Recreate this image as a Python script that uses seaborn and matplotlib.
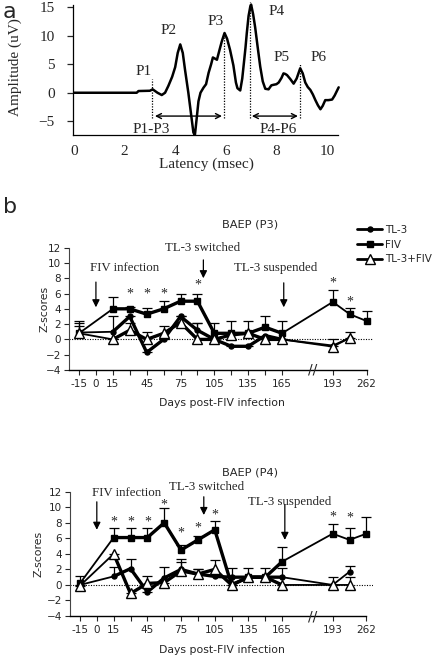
import numpy as np
import pandas as pd
import matplotlib
matplotlib.use("Agg")
import matplotlib.pyplot as plt
from matplotlib.lines import Line2D
import seaborn as sns

# ---------------- data: panel a (waveform) ----------------
latency = [0, 2.48, 2.55, 3.0, 3.11, 3.3, 3.47, 3.6, 3.73, 3.88, 4.0, 4.1, 4.2, 4.3,
           4.39, 4.52, 4.62, 4.72, 4.78, 4.85, 4.92, 5.0, 5.12, 5.22, 5.32, 5.42, 5.49,
           5.57, 5.65, 5.75, 5.84, 5.95, 6.05, 6.17, 6.3, 6.4, 6.46, 6.57, 6.65, 6.7,
           6.78, 6.83, 6.9, 6.97, 7.0, 7.08, 7.16, 7.26, 7.36, 7.46, 7.56, 7.69, 7.8,
           7.89, 8.0, 8.09, 8.2, 8.28, 8.35, 8.42, 8.55, 8.68, 8.8, 8.94, 9.04, 9.14,
           9.24, 9.34, 9.44, 9.54, 9.64, 9.74, 9.83, 9.93, 10.05, 10.2, 10.3, 10.46]
amplitude = [0, 0, 0.3, 0.35, 0.6, 0.0, -0.4, 0.0, 1.2, 2.8, 4.5, 7.0, 8.5, 7.0,
             4.0, 0.0, -3.5, -7.0, -7.4, -4.5, -1.5, 0.0, 0.9, 1.5, 3.5, 5.0, 6.2,
             6.0, 5.8, 7.5, 9.0, 10.5, 9.5, 7.5, 4.8, 1.8, 0.8, 0.4, 2.5, 4.6,
             8.0, 10.5, 13.5, 15.2, 15.5, 13.8, 11.5, 8.0, 4.6, 2.0, 0.7, 0.6, 1.3,
             1.4, 1.5, 1.8, 2.6, 3.4, 3.3, 3.1, 2.4, 1.6, 2.5, 4.3, 3.4, 1.8,
             1.0, 0.5, -0.3, -1.3, -2.2, -2.9, -2.3, -1.3, -1.3, -1.2, -0.5, 0.95]
peak_labels = ["P1", "P2", "P3", "P4", "P5", "P6"]
peak_label_x = [2.75, 3.73, 5.58, 8.02, 8.2, 9.67]
peak_label_y = [3.7, 11.0, 12.5, 14.3, 6.2, 6.2]

# ---------------- data: panel b ----------------
axis_days = ["-15", "0", "15", "30", "45", "60", "75", "90", "105", "120", "135",
             "150", "165", "", " ", "193", "220", "262"]
tick_days = ["-15", "0", "15", "45", "75", "105", "135", "165", "193", "262"]
minor_days = ["30", "60", "90", "120", "150"]
sessions = ["-15", "15", "30", "45", "60", "75", "90", "105", "120", "135", "150",
            "165", "193", "220", "262"]
series_names = ["TL-3", "FIV", "TL-3+FIV"]

nan = np.nan
p3_tl3 = [0.9, 1.0, 3.0, -1.7, 0.0, 3.0, 1.2, 0.0, -0.9, -0.9, 0.5, 0.0, -0.8, 0.2, nan]
p3_tl3_err = [1.2, 2.0, 0.0, 0.0, 0.0, 0.0, 1.0, 0.0, 0.0, 0.0, 0.0, 0.0, 0.0, 0.0, nan]
p3_fiv = [0.8, 4.0, 4.0, 3.3, 4.0, 5.0, 5.0, 0.8, 0.8, 0.8, 1.6, 0.8, 4.9, 3.3, 2.4]
p3_fiv_err = [1.6, 1.6, 0.2, 0.8, 1.0, 1.0, 1.0, 1.4, 1.6, 1.6, 1.5, 1.6, 1.5, 0.8, 1.3]
p3_combo = [0.8, 0.0, 1.2, 0.0, 0.8, 2.2, 0.0, 0.0, 0.6, 0.8, 0.0, 0.0, -0.95, 0.2, nan]
p3_combo_err = [1.0, 0.0, 1.0, 1.0, 1.0, 0.8, 2.1, 0.0, 0.0, 0.0, 0.0, 0.0, 1.0, 0.8, nan]

p4_tl3 = [0.0, 1.1, 2.1, -0.9, 0.9, 2.0, 1.4, 1.1, 1.0, 1.0, 1.0, 1.0, 0.0, 1.7, nan]
p4_tl3_err = [0.0, 1.2, 1.2, 0.0, 1.4, 1.3, 0.6, 0.0, 0.0, 0.0, 0.0, 1.2, 1.0, 0.8, nan]
p4_fiv = [0.2, 6.1, 6.1, 6.1, 8.0, 4.5, 5.8, 7.1, 0.0, 1.0, 1.0, 3.0, 6.6, 5.8, 6.6]
p4_fiv_err = [0.9, 1.2, 1.2, 1.2, 1.9, 0.7, 0.5, 1.1, 2.2, 1.2, 1.2, 1.9, 1.2, 1.5, 2.2]
p4_combo = [-0.1, 4.0, -1.1, 0.2, 0.3, 1.8, 1.4, 2.0, 0.0, 1.0, 1.0, 0.0, 0.0, 0.0, nan]
p4_combo_err = [0.0, 0.0, 0.0, 0.9, 0.0, 1.2, 0.6, 1.2, 0.0, 0.0, 0.0, 0.0, 0.0, 1.0, nan]

p3_sig_days = ["30", "45", "60", "90", "193", "220"]
p3_sig_y = [6.4, 6.4, 6.4, 7.5, 7.8, 5.4]
p4_sig_days = ["15", "30", "45", "60", "75", "90", "105", "193", "220"]
p4_sig_y = [8.6, 8.6, 8.5, 10.7, 7.1, 7.8, 9.5, 9.25, 9.0]

event_labels = ["FIV infection", "TL-3 switched", "TL-3 suspended"]

# ---------------- style ----------------
sns.set_theme(style="ticks")
SERIF = ["Liberation Serif", "DejaVu Serif"]
SANS = ["DejaVu Sans"]
plt.rcParams["font.family"] = SANS
plt.rcParams["axes.edgecolor"] = "black"
plt.rcParams["axes.linewidth"] = 0.9

fig = plt.figure(figsize=(4.4, 6.58), dpi=100)


def slot(day):
    return axis_days.index(day)


# ================= Panel a =================
axa = fig.add_axes([0.1652, 0.7942, 0.6068, 0.2032])
sns.lineplot(x=latency, y=amplitude, ax=axa, color="black", lw=1.8, sort=False,
             estimator=None)
axa.set_xlim(-0.05, 10.5)
axa.set_ylim(-7.5, 16)
for s in ["top", "right"]:
    axa.spines[s].set_visible(False)
axa.spines["left"].set_bounds(-7.5, 15.5)
axa.spines["bottom"].set_bounds(-0.05, 10.45)
axa.set_yticks([-5, 0, 5, 10, 15])
axa.set_xticks([0, 2, 4, 6, 8, 10])
axa.tick_params(axis="y", length=4, width=0.9, pad=9, labelsize=11)
axa.tick_params(axis="x", length=0, pad=7, labelsize=11)
for lab in axa.get_xticklabels() + axa.get_yticklabels():
    lab.set_family(SERIF)
axa.set_xlabel("Latency (msec)", family=SERIF, fontsize=11)
axa.set_ylabel("Amplitude (uV)", family=SERIF, fontsize=11)
axa.xaxis.set_label_coords(0.5, -0.165)
axa.yaxis.set_label_coords(-0.19, 0.508)
for lab, x, y in zip(peak_labels, peak_label_x, peak_label_y):
    axa.text(x, y, lab, family=SERIF, fontsize=11, ha="center", va="center")
for x, y0, y1 in [(3.1, -4.5, 2.4), (5.94, -4.5, 10.5), (6.94, -4.5, 16.0), (8.94, -4.5, 5.2)]:
    axa.plot([x, x], [y0, y1], ls=(0, (1, 1.2)), color="black", lw=0.9, clip_on=False)
for x0, x1 in [(3.2, 5.85), (7.03, 8.85)]:
    axa.annotate("", xy=(x1, -4.1), xytext=(x0, -4.1),
                 arrowprops=dict(arrowstyle="<->", lw=1.0, color="black",
                                 shrinkA=0, shrinkB=0, mutation_scale=9))
axa.text(3.07, -6.4, "P1-P3", family=SERIF, fontsize=11, ha="center", va="center")
axa.text(8.09, -6.4, "P4-P6", family=SERIF, fontsize=11, ha="center", va="center")

fig.text(0.006, 1 - 18 / 658, "a", fontsize=16, va="baseline", ha="left")
fig.text(0.006, 1 - 213 / 658, "b", fontsize=16, va="baseline", ha="left")


# ================= Panel b helpers =================
def draw_series(ax, y, err, marker, ms, mfc, z):
    df = pd.DataFrame({"x": [slot(d) for d in sessions], "y": y, "e": err}).dropna()
    core = df[(df["x"] >= slot("15")) & (df["x"] <= slot("165"))]
    sns.lineplot(data=core, x="x", y="y", ax=ax, color="black", lw=2.4,
                 estimator=None, sort=False, zorder=z)
    eb = ax.errorbar(df["x"], df["y"], yerr=[np.zeros(len(df)), df["e"]], fmt="none",
                     ecolor="black", elinewidth=0.9, capsize=3.6, capthick=0.9,
                     zorder=z - 0.5)
    eb[1][0].set_visible(False)
    sns.lineplot(data=df, x="x", y="y", ax=ax, color="black", lw=1.3,
                 estimator=None, sort=False, marker=marker, markersize=ms,
                 markerfacecolor=mfc, markeredgecolor="black", markeredgewidth=1.0,
                 zorder=z + 0.1)


def setup_axes(ax, title, title_y, ylabel_x, xlabel_y):
    ax.set_xlim(-0.62, 17.4)
    ax.set_ylim(-4, 12)
    for s in ["top", "right"]:
        ax.spines[s].set_visible(False)
    ax.spines["bottom"].set_bounds(-0.62, 17)
    ax.spines["bottom"].set_linewidth(1.0)
    ax.spines["left"].set_linewidth(0.8)
    ax.spines["left"].set_color("#444444")
    ax.set_xticks([slot(d) for d in tick_days])
    ax.set_xticklabels(tick_days)
    ax.set_xticks([slot(d) for d in minor_days], minor=True)
    ax.set_yticks(np.arange(-4, 13, 2))
    ax.tick_params(axis="both", which="both", length=3.5, width=0.8, labelsize=7.5, pad=2)
    ax.tick_params(axis="x", pad=3)
    ax.axhline(0, ls=(0, (1, 1.3)), color="black", lw=0.8, xmax=1.0, zorder=1)
    ax.set_xlabel("Days post-FIV infection", fontsize=7.8)
    ax.set_ylabel("Z-scores", fontsize=7.8)
    ax.xaxis.set_label_coords(0.503, xlabel_y)
    ax.yaxis.set_label_coords(ylabel_x, 0.5)
    ax.text(10.1, title_y, title, fontsize=8.2, ha="center", va="center")
    ax.text(13.8, -4, "//", fontsize=10, ha="center", va="center", zorder=5)


def annotate_events(ax, text_pos, arrows, sig_days, sig_y):
    for lab, (x, y) in zip(event_labels, text_pos):
        ax.text(x, y, lab, family=SERIF, fontsize=9.3, ha="center", va="center")
    for x, y0, y1 in arrows:
        ax.annotate("", xy=(x, y1), xytext=(x, y0),
                    arrowprops=dict(arrowstyle="-|>", lw=0.9, color="black",
                                    shrinkA=0, shrinkB=0, mutation_scale=11))
    for d, y in zip(sig_days, sig_y):
        ax.text(slot(d), y - 0.45, "*", family=SERIF, fontsize=10, ha="center", va="center")


# ================= Panel b1 (P3) =================
ax1 = fig.add_axes([0.1557, 0.4377, 0.693, 0.1859])
draw_series(ax1, p3_tl3, p3_tl3_err, "o", 3.6, "black", 3)
draw_series(ax1, p3_fiv, p3_fiv_err, "s", 4.6, "black", 4)
draw_series(ax1, p3_combo, p3_combo_err, "^", 6.5, "white", 5)
setup_axes(ax1, "BAEP (P3)", 15.0, -0.062, -0.225)
annotate_events(ax1,
                [(2.72, 9.35), (7.33, 12.0), (11.64, 9.35)],
                [(1.0, 7.5, 4.2), (7.35, 10.4, 8.0), (12.1, 7.4, 4.2)],
                p3_sig_days, p3_sig_y)

# ================= Panel b2 (P4) =================
ax2 = fig.add_axes([0.158, 0.0638, 0.690, 0.1889])
draw_series(ax2, p4_tl3, p4_tl3_err, "o", 3.6, "black", 3)
draw_series(ax2, p4_fiv, p4_fiv_err, "s", 4.6, "black", 4)
draw_series(ax2, p4_combo, p4_combo_err, "^", 6.5, "white", 5)
setup_axes(ax2, "BAEP (P4)", 14.5, -0.087, -0.232)
annotate_events(ax2,
                [(2.79, 11.86), (7.53, 12.63), (12.46, 10.7)],
                [(1.0, 10.7, 7.1), (7.35, 11.35, 9.0), (12.16, 10.3, 5.8)],
                p4_sig_days, p4_sig_y)

# ---------------- legend ----------------
handles = [
    Line2D([], [], color="black", lw=2.0, marker="o", markersize=3.6),
    Line2D([], [], color="black", lw=2.0, marker="s", markersize=4.6),
    Line2D([], [], color="black", lw=2.0, marker="^", markersize=6.5,
           markerfacecolor="white", markeredgecolor="black"),
]
fig.legend(handles, series_names, loc="upper left",
           bbox_to_anchor=(357 / 440, 1 - 225 / 658), frameon=False,
           prop={"family": SANS, "size": 7.5}, handlelength=2.4, handletextpad=0.3,
           labelspacing=0.45, borderpad=0, borderaxespad=0)

fig.savefig("out.png", dpi=100)
